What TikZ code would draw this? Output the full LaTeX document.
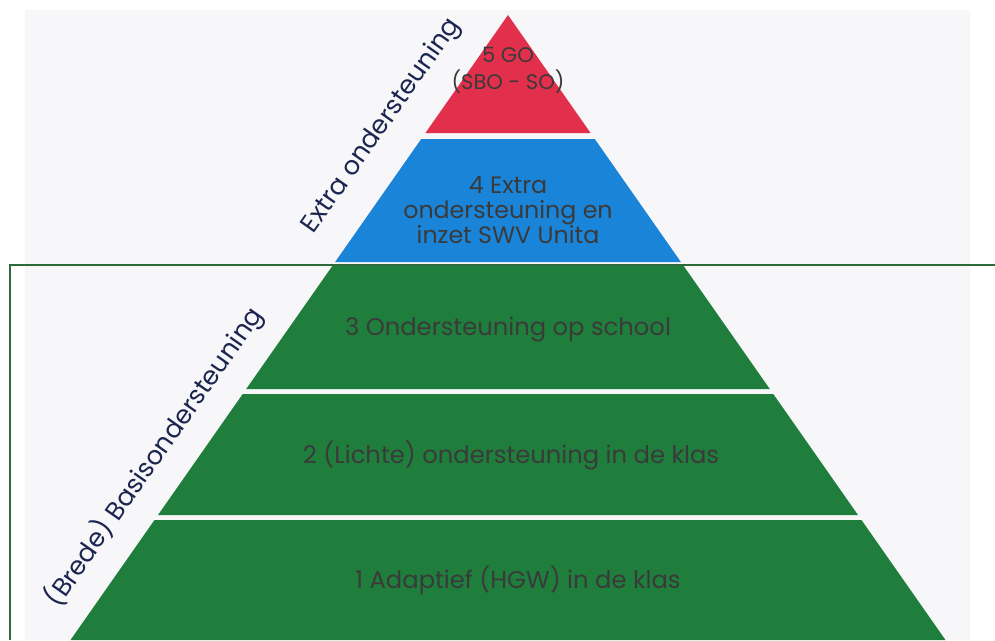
\documentclass[tikz,border=0pt]{standalone}
\usepackage{fontspec}
\setmainfont{Poppins}
\definecolor{topred}{HTML}{E2304C}
\definecolor{midblue}{HTML}{1A84D8}
\definecolor{basegreen}{HTML}{1F7E3C}
\definecolor{framegreen}{HTML}{2E6B3A}
\definecolor{pagegray}{HTML}{F7F7F9}
\definecolor{tiertext}{HTML}{3A3A3A}
\definecolor{sidetext}{HTML}{1C2550}

\begin{document}
\begin{tikzpicture}[x=0.02cm, y=-0.02cm,
    tier/.style = {font=\fontsize{13.8}{14.2}\selectfont, text=tiertext, align=center},
    side/.style = {font=\fontsize{14.6}{16}\selectfont, text=sidetext, rotate=55}]

    \useasboundingbox (0,0) rectangle (995,640);
    \fill[white] (0,0) rectangle (995,640);
    \fill[pagegray] (25,10) rectangle (970,640);

    % the five tiers
    \fill[topred] (508,15) -- (590.6,133) -- (425.4,133) -- cycle;
    \fill[midblue] (421.2,139) -- (594.8,139) -- (680.9,262) -- (335.1,262) -- cycle;
    \fill[basegreen] (332.3,266) -- (683.7,266) -- (769.8,389) -- (246.2,389) -- cycle;
    \fill[basegreen] (242.7,394) -- (773.3,394) -- (858,515) -- (158,515) -- cycle;
    \fill[basegreen] (154.5,520) -- (861.5,520) -- (945.5,640) -- (70.5,640) -- cycle;

    % frame round the base support
    \draw[framegreen, line width=0.9pt] (995,265) -- (10,265) -- (10,640);

    \node[tier, font=\fontsize{12}{15.3}\selectfont] (t5) at (508,70) {5 GO\\(SBO - SO)};
    \node[tier, font=\fontsize{13.5}{14.2}\selectfont] (t4) at (508,210) {4 Extra\\ondersteuning en\\inzet SWV Unita};
    \node[tier] (t3) at (508,330) {3 Ondersteuning op school};
    \node[tier] (t2) at (511,455) {2 (Lichte) ondersteuning in de klas};
    \node[tier] (t1) at (518,580) {1 Adaptief (HGW) in de klas};

    \node[side] (extra) at (382,126) {Extra ondersteuning};
    \node[side] (basis) at (154,457) {(Brede) Basisondersteuning};

\end{tikzpicture}
\end{document}
